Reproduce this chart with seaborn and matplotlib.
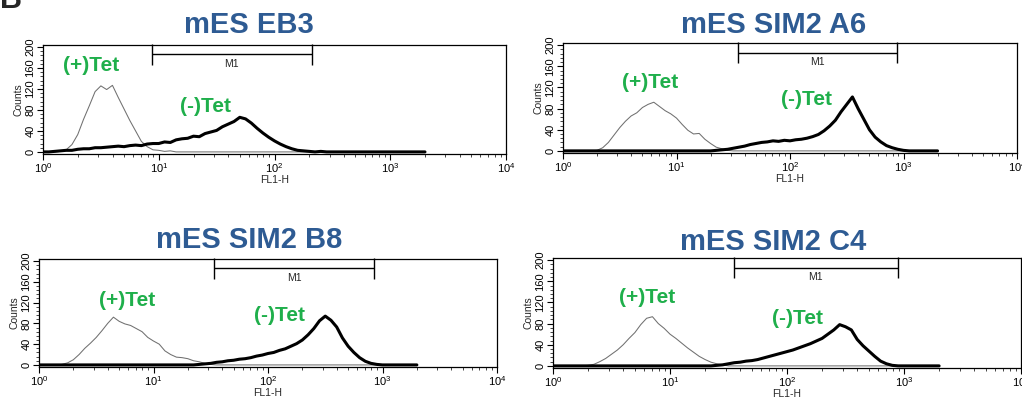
import matplotlib
matplotlib.use("Agg")
import matplotlib.pyplot as plt
from matplotlib.ticker import MultipleLocator, LogLocator
import numpy as np
import pandas as pd
import seaborn as sns

# channel positions, log10(FL1-H)
log_fl1 = [0.00, 0.05, 0.10, 0.15, 0.20, 0.25, 0.30, 0.35, 0.40, 0.45,
           0.50, 0.55, 0.60, 0.65, 0.70, 0.75, 0.80, 0.85, 0.90, 0.95,
           1.00, 1.05, 1.10, 1.15, 1.20, 1.25, 1.30, 1.35, 1.40, 1.45,
           1.50, 1.55, 1.60, 1.65, 1.70, 1.75, 1.80, 1.85, 1.90, 1.95,
           2.00, 2.05, 2.10, 2.15, 2.20, 2.25, 2.30, 2.35, 2.40, 2.45,
           2.50, 2.55, 2.60, 2.65, 2.70, 2.75, 2.80, 2.85, 2.90, 2.95,
           3.00, 3.05, 3.10, 3.15, 3.20, 3.25, 3.30]

Z10 = [0] * 10
Z7 = [0] * 7

# counts
eb3_plus = [0, 0, 0, 1, 4, 14, 33, 62, 88, 115,
            126, 119, 127, 104, 82, 60, 40, 20, 10, 4,
            3, 1, 2, 0, 0, 0, 0, 0, 0, 0] + Z10 + Z10 + Z10 + Z7
eb3_minus = [0, 0, 1, 2, 3, 3, 5, 6, 6, 8,
             8, 9, 10, 11, 10, 12, 13, 12, 15, 16,
             16, 19, 18, 23, 25, 26, 30, 29, 35, 38,
             41, 48, 53, 58, 66, 63, 55, 45, 36, 28,
             21, 15, 10, 6, 3, 2, 1, 0, 1, 0] + Z10 + Z7

a6_plus = [0, 0, 0, 0, 0, 0, 1, 6, 16, 30,
           44, 56, 66, 72, 82, 88, 92, 84, 76, 70,
           62, 50, 39, 32, 33, 22, 14, 7, 4, 1] + Z10 + Z10 + Z10 + Z7
a6_minus = Z10 + Z10 + [0, 0, 0, 0, 0, 0, 0, 1, 2, 3,
                        5, 7, 9, 12, 14, 16, 17, 19, 18, 20,
                        19, 21, 22, 24, 27, 31, 38, 47, 58, 74,
                        88, 102, 80, 60, 40, 26, 17, 10, 6, 3,
                        1, 0, 0, 0, 0, 0, 0]

b8_plus = [0, 0, 0, 0, 1, 4, 10, 20, 32, 42,
           53, 66, 80, 92, 84, 79, 76, 70, 64, 53,
           46, 40, 27, 20, 15, 14, 12, 8, 6, 3,
           1, 0, 0, 0, 0, 0, 0, 0, 0, 0] + Z10 + Z10 + Z7
b8_minus = Z10 + Z10 + [0, 0, 0, 0, 0, 0, 0, 0, 1, 2,
                        3, 5, 6, 8, 9, 11, 12, 14, 17, 19,
                        22, 24, 28, 31, 36, 41, 48, 58, 70, 85,
                        94, 86, 73, 52, 36, 24, 14, 7, 3, 1] + Z7

c4_plus = [0, 0, 0, 0, 0, 0, 1, 3, 8, 14,
           22, 30, 40, 52, 63, 78, 90, 93, 80, 71,
           60, 52, 43, 34, 26, 18, 12, 7, 4, 2] + Z10 + Z10 + Z10 + Z7
c4_minus = Z10 + Z10 + [0, 0, 0, 0, 0, 0, 0, 0, 1, 2,
                        4, 6, 7, 9, 10, 12, 15, 18, 21, 24,
                        27, 30, 34, 38, 42, 47, 52, 60, 68, 78,
                        74, 68, 50, 38, 28, 18, 9, 4, 1, 0] + Z7

titles = ["mES EB3", "mES SIM2 A6", "mES SIM2 B8", "mES SIM2 C4"]
plus_counts = [eb3_plus, a6_plus, b8_plus, c4_plus]
minus_counts = [eb3_minus, a6_minus, b8_minus, c4_minus]

# M1 gate (FL1-H)
m1_lo = [8.7, 35, 34, 35]
m1_hi = [210, 870, 850, 890]

# label spots (FL1-H, counts)
plus_lbl = [(2.6, 165), (5.9, 130), (5.9, 124), (6.4, 130)]
minus_lbl = [(25.5, 87), (140, 97), (126, 95), (123, 90)]

# figure layout (pixels of the 1022x400 target)
boxes = [(43, 45, 506, 154), (563, 43, 1017, 153),
         (39, 259, 497, 367), (553, 258, 1021, 368)]
title_xy = [(249, 25), (774, 25), (249, 240), (773, 242)]

sns.set_theme(style="ticks")
plt.rcParams['font.family'] = ['Liberation Sans', 'DejaVu Sans']

W, H = 1022, 400
fig = plt.figure(figsize=(W / 100, H / 100), dpi=100)
fig.patch.set_facecolor("white")

title_col = "#2E5B93"
green = "#1FAF4B"

for i in range(4):
    l, t, r, b = boxes[i]
    ax = fig.add_axes([l / W, 1 - b / H, (r - l) / W, (b - t) / H])
    df = pd.DataFrame({"fl1": 10 ** np.array(log_fl1),
                       "plus": plus_counts[i], "minus": minus_counts[i]})
    sns.lineplot(data=df, x="fl1", y="plus", ax=ax, color="#707070", lw=0.75)
    sns.lineplot(data=df, x="fl1", y="minus", ax=ax, color="black", lw=2.2)

    ax.set_xscale("log")
    ax.set_xlim(1, 1e4)
    ax.set_ylim(-4, 204)
    ax.set_yticks([0, 40, 80, 120, 160, 200])
    ax.yaxis.set_minor_locator(MultipleLocator(8))
    ax.xaxis.set_major_locator(LogLocator(base=10, numticks=10))
    ax.xaxis.set_minor_locator(LogLocator(base=10, subs=np.arange(2, 10), numticks=20))
    ax.tick_params(axis="both", which="major", direction="out", length=4,
                   width=0.8, labelsize=8, pad=1.5, colors="black")
    ax.tick_params(axis="both", which="minor", direction="out", length=2,
                   width=0.6)
    ax.tick_params(axis="y", labelrotation=90)
    for lab in ax.get_yticklabels():
        lab.set_va("center")
    ax.set_xlabel("FL1-H", fontsize=7.5, labelpad=0)
    ax.set_ylabel("Counts", fontsize=7.5, labelpad=1)
    for s in ax.spines.values():
        s.set_linewidth(0.9)
        s.set_color("black")

    # M1 gate bracket
    ax.hlines(186, m1_lo[i], m1_hi[i], color="black", lw=1.0)
    ax.vlines([m1_lo[i], m1_hi[i]], 166, 206, color="black", lw=1.0, clip_on=False)
    ax.text(np.sqrt(m1_lo[i] * m1_hi[i]), 177, "M1", fontsize=7.5,
            ha="center", va="top")

    ax.text(*plus_lbl[i], "(+)Tet", color=green, fontsize=15,
            fontweight="bold", ha="center", va="center")
    ax.text(*minus_lbl[i], "(-)Tet", color=green, fontsize=15,
            fontweight="bold", ha="center", va="center")

    tx, ty = title_xy[i]
    fig.text(tx / W, 1 - ty / H, titles[i], color=title_col, fontsize=21,
             fontweight="bold", ha="center", va="center")

# panel letter, cut off at the top edge
fig.text(0.0, 1 - 8 / H, "B", fontsize=22, fontweight="bold", ha="left",
         va="baseline")

fig.savefig("out.png", dpi=100, facecolor="white")
